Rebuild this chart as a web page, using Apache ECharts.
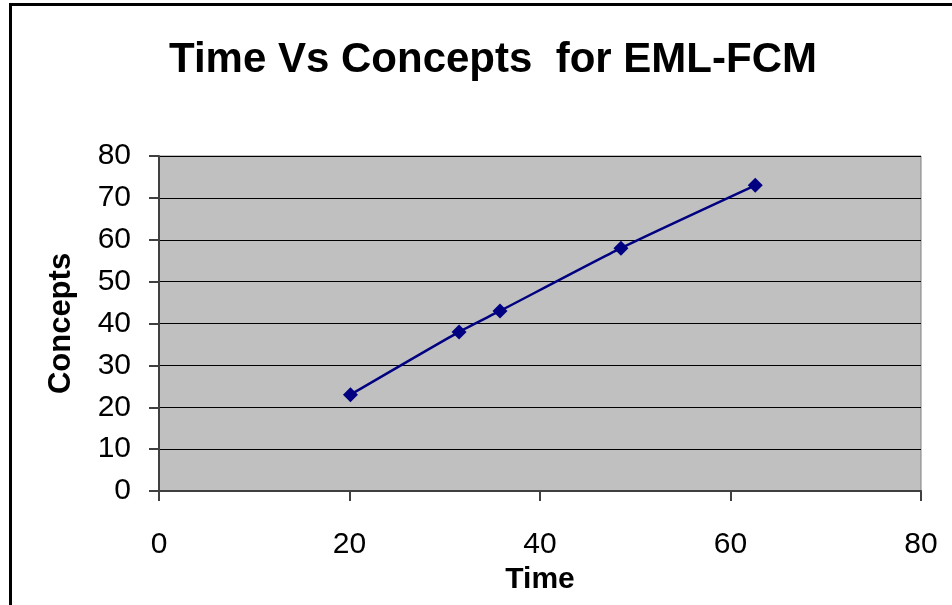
<!DOCTYPE html>
<html>
<head>
<meta charset="utf-8">
<script src="https://cdn.jsdelivr.net/npm/echarts@6/dist/echarts.min.js"></script>
<style>
html,body{margin:0;padding:0;background:#fff;}
#c{width:952px;height:605px;}
</style>
</head>
<body>
<div id="c"></div>
<script>
const timeValues = [20.1, 31.5, 35.8, 48.5, 62.6];
const conceptValues = [23, 38, 43, 58, 73];
const xTicks = [0, 20, 40, 60, 80];
const yTicks = [0, 10, 20, 30, 40, 50, 60, 70, 80];
const titleText = 'Time Vs Concepts  for EML-FCM';
const xName = 'Time';
const yName = 'Concepts';

const chart = echarts.init(document.getElementById('c'));
const font = '"Liberation Sans", Arial, sans-serif';
chart.setOption({
  animation: false,
  backgroundColor: '#fff',
  graphic: [{
    type: 'rect', silent: true, z: -1,
    shape: {x: 10.5, y: 4.5, width: 1200, height: 1200},
    style: {fill: 'none', stroke: '#000', lineWidth: 3}
  }],
  title: {
    text: titleText,
    left: 488, top: 34, textAlign: 'center',
    textStyle: {fontFamily: font, fontWeight: 'bold', fontSize: 42, color: '#000'}
  },
  grid: {left: 159, top: 156, right: 31, bottom: 114, show: true,
         backgroundColor: '#C0C0C0', borderColor: '#808080', borderWidth: 1},
  xAxis: {
    type: 'value', min: xTicks[0], max: xTicks[xTicks.length - 1], interval: 20,
    name: xName, nameLocation: 'middle', nameGap: 64,
    nameTextStyle: {fontFamily: font, fontWeight: 'bold', fontSize: 30, color: '#000'},
    axisLine: {show: true, lineStyle: {color: '#404040', width: 2}},
    axisTick: {show: true, length: 10, lineStyle: {color: '#404040', width: 2}},
    axisLabel: {fontFamily: font, fontSize: 30, color: '#000', margin: 39},
    splitLine: {show: false}
  },
  yAxis: {
    type: 'value', min: yTicks[0], max: yTicks[yTicks.length - 1], interval: 10,
    name: yName, nameLocation: 'middle', nameGap: 82, nameRotate: 90,
    nameTextStyle: {fontFamily: font, fontWeight: 'bold', fontSize: 31, color: '#000'},
    axisLine: {show: true, lineStyle: {color: '#404040', width: 2}},
    axisTick: {show: true, length: 10, lineStyle: {color: '#404040', width: 2}},
    axisLabel: {fontFamily: font, fontSize: 30, color: '#000', margin: 28},
    splitLine: {show: true, lineStyle: {color: '#000', width: 1}}
  },
  series: [{
    type: 'line',
    data: timeValues.map((t, i) => [t, conceptValues[i]]),
    smooth: 0.2,
    symbol: 'diamond', symbolSize: 15,
    lineStyle: {color: '#000080', width: 2.5},
    itemStyle: {color: '#000080'}
  }]
});
</script>
</body>
</html>
